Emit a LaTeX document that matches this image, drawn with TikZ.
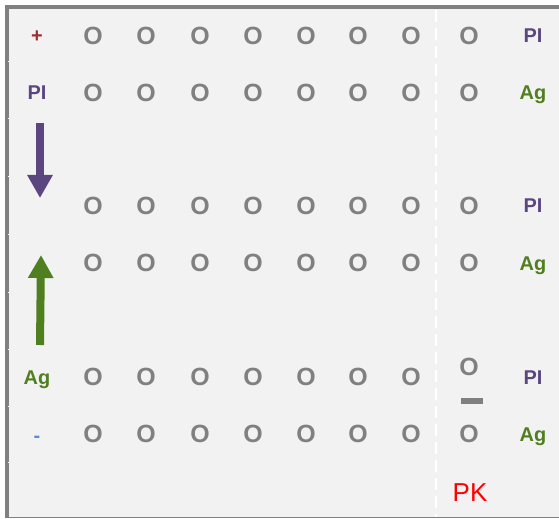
\documentclass[tikz,border=0pt]{standalone}
\usepackage{fontspec}
\setmainfont{Liberation Sans}
\usetikzlibrary{arrows.meta}
\definecolor{panel}{HTML}{F2F2F2}
\definecolor{frame}{HTML}{808080}
\definecolor{ograu}{HTML}{808080}
\definecolor{plcol}{HTML}{5B467F}
\definecolor{agcol}{HTML}{4F7F1F}
\definecolor{pluscol}{HTML}{9B2D2D}
\definecolor{minuscol}{HTML}{5B8ED6}
\tikzset{
  ocell/.style={text=ograu, font=\fontsize{25}{25}\selectfont\bfseries, inner sep=0pt},
  lbl/.style={anchor=base, inner sep=0pt, font=\fontsize{20}{20}\selectfont\bfseries, yshift=-7bp},
  pllabel/.style={lbl, text=plcol},
  aglabel/.style={lbl, text=agcol},
  signlabel/.style={lbl},
  pklabel/.style={text=red, font=\fontsize{26}{26}\selectfont, anchor=base, inner sep=0pt, yshift=-9.5bp},
  bigarrow/.style={line width=8bp, -{Triangle[width=24bp,length=23bp]}},
}
\begin{document}
\begin{tikzpicture}[x=1bp,y=-1bp]
\useasboundingbox (0,0) rectangle (559,519);
% panel and frame
\fill[white] (0,0) rectangle (559,519);
\fill[panel] (5,5) rectangle (559,518);
\draw[frame, line width=4bp] (559,7) -- (7,7) -- (7,518);
\draw[frame, line width=1.5bp] (5,517.5) -- (559,517.5);
% row ticks on the left frame
\foreach \ty in {62,119,177,234,292,349,406,462}
  \draw[white, line width=1bp] (7.5,\ty) -- (9.5,\ty);
% column divider
\draw[white, line width=1.2bp, dash pattern=on 12bp off 6bp] (436,10) -- (436,517);

% grid of O cells
\foreach \r/\yy in {1/36,2/93,4/206,5/263,7/377,8/434}
  \foreach \c/\xx in {1/93,2/146,3/200,4/253,5/306,6/358,7/411}
    \node[ocell] (o\r-\c) at (\xx,\yy) {O};
\foreach \r/\yy in {1/36,2/93,4/206,5/263,7/367,8/434}
  \node[ocell] (o\r-8) at (469,\yy) {O};
\fill[frame] (461,398) rectangle (483,404);

% left labels
\node[signlabel, text=pluscol] (plus) at (37,36) {+};
\node[pllabel] (plleft) at (37,93) {PI};
\node[aglabel] (agleft) at (37,377) {Ag};
\node[signlabel, text=minuscol] (minus) at (37,435) {-};

% right labels
\node[pllabel] (pl1) at (533,36) {PI};
\node[aglabel] (ag1) at (533,93) {Ag};
\node[pllabel] (pl2) at (533,206) {PI};
\node[aglabel] (ag2) at (533,263) {Ag};
\node[pllabel] (pl3) at (533,377) {PI};
\node[aglabel] (ag3) at (533,434) {Ag};

\node[pklabel] (pk) at (470,492) {PK};

% arrows
\coordinate (dtop) at (40,123);
\coordinate (dtip) at (40,198);
\coordinate (ubot) at (40,345);
\coordinate (utip) at (41,255);
\draw[bigarrow, plcol] (dtop) -- (dtip);
\draw[bigarrow, agcol] (ubot) -- (utip);
\end{tikzpicture}
\end{document}
